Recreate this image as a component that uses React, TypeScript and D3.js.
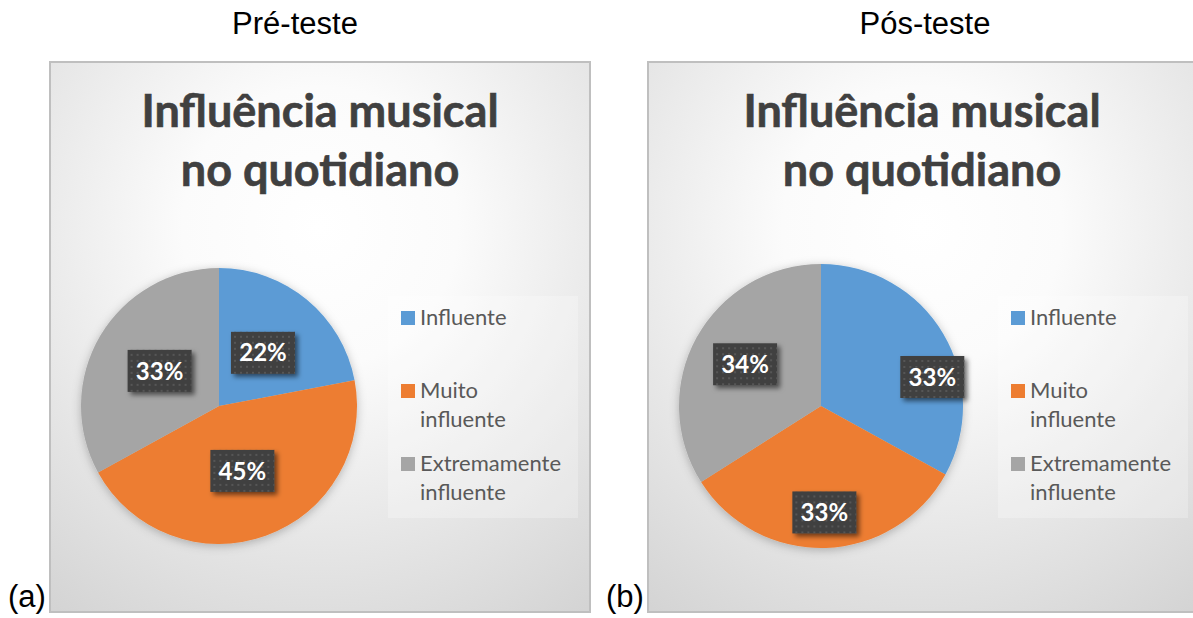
import * as d3 from "d3";

// shared categories and colors
const categories = ["Influente", "Muito influente", "Extremamente influente"];
const legendLines = [["Influente"], ["Muito", "influente"], ["Extremamente", "influente"]];
const sliceColors = ["#5B9BD5", "#ED7D31", "#A5A5A5"];

// values (percent)
const preValues = [22, 45, 33];
const postValues = [33, 33, 34];

const chartTitle = ["Influência musical", "no quotidiano"];
const panelTitles = ["Pré-teste", "Pós-teste"];
const panelTags = ["(a)", "(b)"];

type PanelLayout = {
  x: number;
  w: number;
  cx: number;
  r: number;
  legendX: number;
  labelR: number[];
  labelShift: number[];
};

const layouts: PanelLayout[] = [
  { x: 50, w: 540, cx: 169, r: 138, legendX: 338, labelR: [0.5, 0.5, 0.5], labelShift: [0, 0, 0] },
  { x: 648, w: 548, cx: 173, r: 142, legendX: 350, labelR: [0.81, 0.75, 0.61], labelShift: [16, 0, 0] },
];

const panelTop = 62;
const panelH = 550;

function Panel({ values, layout, idx }: { values: number[]; layout: PanelLayout; idx: number }) {
  const pie = d3.pie<number>().sort(null).value((d) => d);
  const arcs = pie(values);
  const arc = d3.arc<d3.PieArcDatum<number>>().innerRadius(0).outerRadius(layout.r);
  const cy = 406 - panelTop;
  const gid = `bg${idx}`;

  return (
    <g transform={`translate(${layout.x},${panelTop})`}>
      <defs>
        <radialGradient id={gid} cx="0.5" cy="0.3" r="0.85" gradientUnits="objectBoundingBox">
          <stop offset="0" stopColor="#ffffff" />
          <stop offset="0.3" stopColor="#fbfbfb" />
          <stop offset="1" stopColor="#d4d4d4" />
        </radialGradient>
      </defs>
      <rect x={0} y={0} width={layout.w} height={panelH} fill={`url(#${gid})`} stroke="#bfbfbf" strokeWidth={2} />
      {chartTitle.map((t, i) => (
        <text
          key={t}
          x={layout.w / 2}
          y={65 + i * 59}
          textAnchor="middle"
          fontFamily="Lato, 'Open Sans', sans-serif"
          fontWeight={700}
          fontSize={45}
          fill="#404040"
          stroke="#404040"
          strokeWidth={0.6}
        >
          {t}
        </text>
      ))}
      <g transform={`translate(${layout.cx},${cy})`}>
        <g filter="url(#pieShadow)">
          {arcs.map((a, i) => (
            <path key={i} d={arc(a) || ""} fill={sliceColors[i]} />
          ))}
        </g>
        {arcs.map((a, i) => {
          const ang = (a.startAngle + a.endAngle) / 2 + (layout.labelShift[i] * Math.PI) / 180;
          const rr = layout.r * layout.labelR[i];
          const lx = Math.sin(ang) * rr;
          const ly = -Math.cos(ang) * rr;
          return (
            <g key={i} transform={`translate(${lx},${ly})`}>
              <g filter="url(#boxShadow)">
                <rect x={-32} y={-21} width={64} height={42} fill="#404040" />
              </g>
              <rect x={-32} y={-21} width={64} height={42} fill="url(#dots)" />
              <text
                textAnchor="middle"
                dy="0.36em"
                fontFamily="Lato, 'Open Sans', sans-serif"
                fontWeight={700}
                fontSize={24}
                fill="#ffffff"
              >
                {`${a.data}%`}
              </text>
            </g>
          );
        })}
      </g>
      <g transform={`translate(${layout.legendX},234)`}>
        <rect x={0} y={0} width={190} height={222} fill="#ffffff" opacity={0.25} />
        {categories.map((c, i) => {
          const y0 = 29 + i * 73;
          return (
            <g key={c}>
              <rect x={13} y={y0 - 14} width={14} height={14} fill={sliceColors[i]} />
              {legendLines[i].map((ln, j) => (
                <text
                  key={j}
                  x={32}
                  y={y0 + j * 29}
                  fontFamily="Lato, 'Open Sans', sans-serif"
                  fontSize={22}
                  fill="#595959"
                >
                  {ln}
                </text>
              ))}
            </g>
          );
        })}
      </g>
    </g>
  );
}

export default function App() {
  const centers = [295, 925];
  return (
    <svg width={1193} height={618} style={{ position: "absolute", left: 0, top: 0 }}>
      <defs>
        <filter id="pieShadow" x="-20%" y="-20%" width="140%" height="140%">
          <feDropShadow dx="0" dy="2" stdDeviation="5" floodColor="#000" floodOpacity="0.25" />
        </filter>
        <filter id="boxShadow" x="-30%" y="-30%" width="160%" height="160%">
          <feDropShadow dx="3" dy="3" stdDeviation="2.5" floodColor="#000" floodOpacity="0.55" />
        </filter>
        <pattern id="dots" width="6" height="6" patternUnits="userSpaceOnUse">
          <rect x="1" y="1" width="2" height="2" fill="#565656" />
        </pattern>
      </defs>
      <rect width={1193} height={618} fill="#ffffff" />
      {panelTitles.map((t, i) => (
        <text key={t} x={centers[i]} y={34} textAnchor="middle" fontFamily="'Liberation Sans', Arial, sans-serif" fontSize={31} fill="#000">
          {t}
        </text>
      ))}
      <Panel values={preValues} layout={layouts[0]} idx={0} />
      <Panel values={postValues} layout={layouts[1]} idx={1} />
      {panelTags.map((t, i) => (
        <text key={t} x={i === 0 ? 8 : 606} y={607} fontFamily="'Liberation Sans', Arial, sans-serif" fontSize={31} fill="#000">
          {t}
        </text>
      ))}
    </svg>
  );
}
